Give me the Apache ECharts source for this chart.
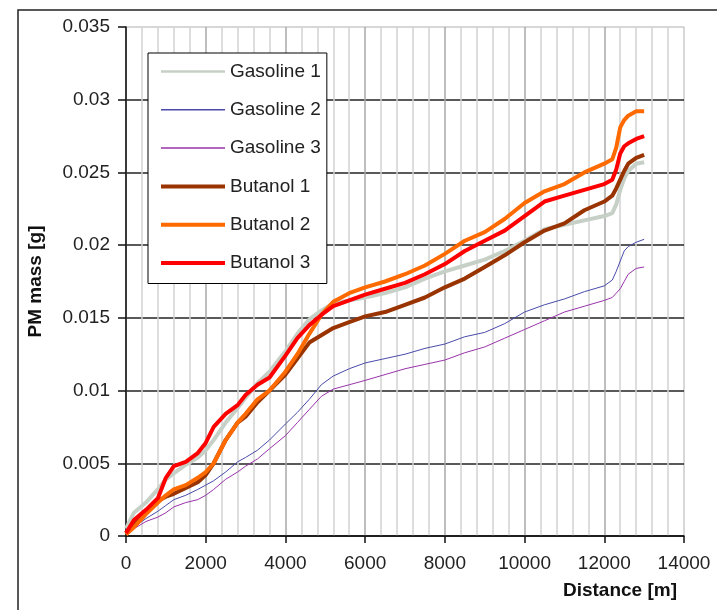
<!DOCTYPE html>
<html>
<head>
<meta charset="utf-8">
<script src="https://cdn.jsdelivr.net/npm/echarts@6/dist/echarts.min.js"></script>
<style>
html,body{margin:0;padding:0;background:#fff;}
#chart{width:717px;height:610px;}
</style>
</head>
<body>
<div id="chart"></div>
<script>
const distance = [0,200,500,800,1000,1200,1500,1800,2000,2200,2500,2800,3000,3300,3600,4000,4300,4600,4900,5200,5600,6000,6500,7000,7500,8000,8500,9000,9500,10000,10500,11000,11500,12000,12200,12300,12400,12500,12600,12800,13000];

const gasoline1 = [0.0005,0.0016,0.0023,0.0032,0.0039,0.0043,0.0049,0.0054,0.0059,0.0066,0.0078,0.0088,0.0095,0.0105,0.0113,0.0127,0.0139,0.0149,0.0155,0.0160,0.0162,0.0164,0.0167,0.0171,0.0177,0.0182,0.0186,0.0190,0.0196,0.0203,0.0211,0.0214,0.0217,0.0220,0.0222,0.0228,0.0238,0.0246,0.0251,0.0256,0.0257];
const gasoline2 = [0.0001,0.0006,0.0012,0.0017,0.0021,0.0025,0.0028,0.0032,0.0035,0.0038,0.0044,0.0051,0.0054,0.0059,0.0066,0.0077,0.0085,0.0094,0.0104,0.0110,0.0115,0.0119,0.0122,0.0125,0.0129,0.0132,0.0137,0.0140,0.0146,0.0154,0.0159,0.0163,0.0168,0.0172,0.0176,0.0182,0.0189,0.0196,0.0199,0.0202,0.0204];
const gasoline3 = [0.0001,0.0005,0.0010,0.0013,0.0016,0.0020,0.0023,0.0025,0.0028,0.0032,0.0039,0.0044,0.0048,0.0053,0.0060,0.0069,0.0078,0.0087,0.0096,0.0101,0.0104,0.0107,0.0111,0.0115,0.0118,0.0121,0.0126,0.0130,0.0136,0.0142,0.0148,0.0154,0.0158,0.0162,0.0164,0.0167,0.0170,0.0175,0.0180,0.0184,0.0185];
const butanol1 = [0.0002,0.0009,0.0016,0.0024,0.0027,0.0029,0.0033,0.0037,0.0042,0.0050,0.0066,0.0078,0.0082,0.0092,0.0100,0.0111,0.0122,0.0133,0.0138,0.0143,0.0147,0.0151,0.0154,0.0159,0.0164,0.0171,0.0177,0.0185,0.0193,0.0202,0.0210,0.0215,0.0224,0.0230,0.0234,0.0239,0.0245,0.0251,0.0256,0.0260,0.0262];
const butanol2 = [0.0001,0.0006,0.0015,0.0023,0.0028,0.0032,0.0035,0.0040,0.0044,0.0050,0.0066,0.0078,0.0084,0.0094,0.0100,0.0113,0.0125,0.0139,0.0152,0.0161,0.0167,0.0171,0.0175,0.0180,0.0186,0.0194,0.0203,0.0209,0.0218,0.0229,0.0237,0.0242,0.0250,0.0256,0.0259,0.0267,0.0281,0.0286,0.0289,0.0292,0.0292];
const butanol3 = [0.0002,0.0011,0.0018,0.0026,0.0040,0.0048,0.0051,0.0057,0.0064,0.0075,0.0084,0.0090,0.0097,0.0104,0.0109,0.0124,0.0136,0.0145,0.0152,0.0158,0.0162,0.0166,0.0170,0.0174,0.0180,0.0187,0.0196,0.0203,0.0210,0.0220,0.0230,0.0234,0.0238,0.0242,0.0245,0.0252,0.0263,0.0268,0.0270,0.0273,0.0275];

const seriesNames = ['Gasoline 1','Gasoline 2','Gasoline 3','Butanol 1','Butanol 2','Butanol 3'];
const seriesValues = [gasoline1,gasoline2,gasoline3,butanol1,butanol2,butanol3];
const seriesColors = ['#c6d0c6','#4a4aaa','#9933aa','#993300','#ff6a00','#ff0000'];
const seriesWidths = [4,1,1,4,4,4];
const legendWidths = [2.5,1.5,1.5,4,4,4];

const xTitle = 'Distance [m]';
const yTitle = 'PM mass [g]';

const FONT = '"Liberation Sans", Arial, sans-serif';

const chart = echarts.init(document.getElementById('chart'), null, {renderer:'canvas'});

const series = seriesNames.map((name, i) => ({
  name: name,
  type: 'line',
  data: distance.map((d, j) => [d, seriesValues[i][j]]),
  symbol: 'none',
  showSymbol: false,
  smooth: false,
  animation: false,
  lineStyle: {color: seriesColors[i], width: seriesWidths[i]},
  itemStyle: {color: seriesColors[i]},
  z: 2 + i
}));

chart.setOption({
  backgroundColor: '#fff',
  animation: false,
  grid: {
    left: 126, right: 33, top: 27, bottom: 74,
    show: true, borderColor: '#b0b0b0', borderWidth: 1, backgroundColor: 'transparent'
  },
  legend: {
    left: 148, top: 53,
    orient: 'vertical',
    itemWidth: 64, itemHeight: 19, itemGap: 19.3,
    padding: [9, 6, 11, 11],
    borderColor: '#000', borderWidth: 1,
    backgroundColor: '#fff',
    itemStyle: {color: 'rgba(0,0,0,0)', borderWidth: 0, opacity: 0},
    data: seriesNames.map((n, i) => ({name: n, lineStyle: {width: legendWidths[i], color: seriesColors[i]}})),
    textStyle: {fontFamily: FONT, fontSize: 19, color: '#222', padding: [0,0,0,0]},
    z: 10
  },
  xAxis: {
    type: 'value', min: 0, max: 14000, interval: 2000,
    name: xTitle, nameLocation: 'end',
    nameGap: 0,
    nameTextStyle: {fontFamily: FONT, fontSize: 19, fontWeight: 'bold', color: '#111', align: 'right', verticalAlign: 'top', padding: [45, 7, 0, 0]},
    axisLine: {show: true, lineStyle: {color: '#111', width: 1.5}},
    axisTick: {show: true, inside: false, length: 7, lineStyle: {color: '#111', width: 1.5}},
    axisLabel: {fontFamily: FONT, fontSize: 19, color: '#222', margin: 18, formatter: v => String(v)},
    splitLine: {show: true, showMaxLine: false, lineStyle: {color: '#a8a8a8', width: 1.5}},
    minorTick: {show: false, splitNumber: 5},
    minorSplitLine: {show: true, lineStyle: {color: '#d2d2d2', width: 1.5}}
  },
  yAxis: {
    type: 'value', min: 0, max: 0.035, interval: 0.005,
    name: yTitle, nameLocation: 'middle', nameGap: 81, nameRotate: 90,
    nameTextStyle: {fontFamily: FONT, fontSize: 19, fontWeight: 'bold', color: '#111'},
    axisLine: {show: true, lineStyle: {color: '#111', width: 1.5}},
    axisTick: {show: true, inside: false, length: 8, lineStyle: {color: '#111', width: 1.5}},
    axisLabel: {fontFamily: FONT, fontSize: 19, color: '#222', margin: 16, formatter: v => String(v)},
    splitLine: {show: true, showMaxLine: false, lineStyle: {color: '#222', width: 1.5}}
  },
  graphic: [{
    type: 'rect',
    shape: {x: 18, y: 10, width: 740, height: 640},
    style: {fill: 'none', stroke: '#222', lineWidth: 1.5},
    silent: true, z: 0
  }],
  series: series
});
</script>
</body>
</html>
